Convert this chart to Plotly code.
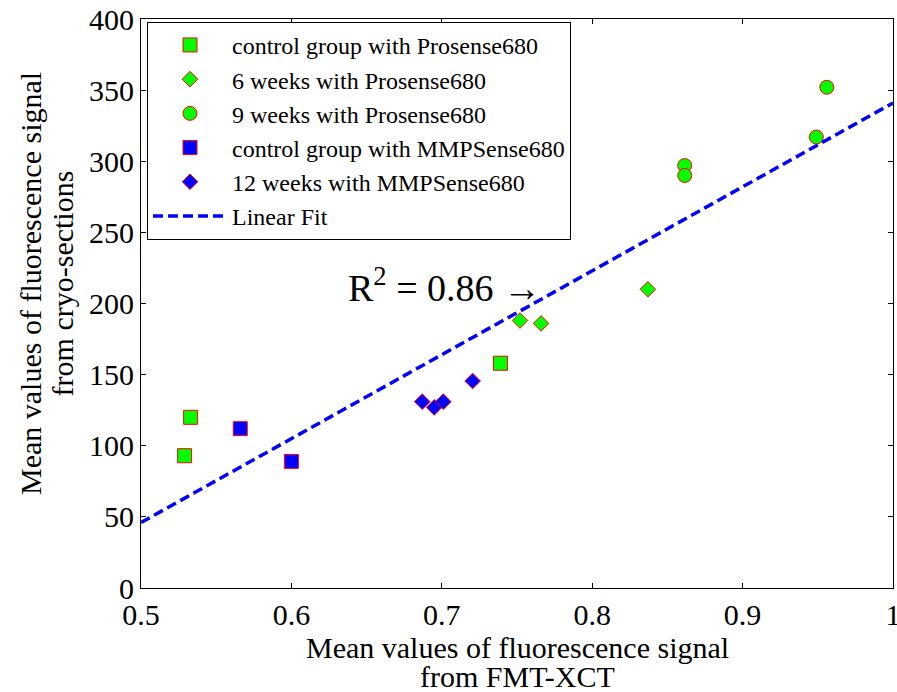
import plotly.graph_objects as go

# Data
ctrl_pro_x = [0.529, 0.533, 0.739]
ctrl_pro_y = [93, 120, 158]
w6_pro_x = [0.752, 0.766, 0.837]
w6_pro_y = [188, 186, 210]
w9_pro_x = [0.8615, 0.8615, 0.949, 0.956]
w9_pro_y = [297, 290, 317, 352]
ctrl_mmp_x = [0.566, 0.600]
ctrl_mmp_y = [112, 89]
w12_mmp_x = [0.687, 0.695, 0.701, 0.7205]
w12_mmp_y = [131, 127, 131, 145.5]
fit_x = [0.5, 1.0]
fit_y = [46, 341]

x_ticks = [0.5, 0.6, 0.7, 0.8, 0.9, 1.0]
x_ticktext = ["0.5", "0.6", "0.7", "0.8", "0.9", "1"]
y_ticks = [0, 50, 100, 150, 200, 250, 300, 350, 400]

FONT = "Liberation Serif"
GREEN = "#00FF00"
BLUE = "#0000FF"
RED = "#FF0000"

fig = go.Figure()

def add_markers(x, y, name, symbol, fill, size):
    fig.add_trace(go.Scatter(
        x=x, y=y, mode="markers", name=name,
        marker=dict(symbol=symbol, color=fill, size=size,
                    line=dict(color=RED, width=1)),
    ))

add_markers(ctrl_pro_x, ctrl_pro_y, "control group with Prosense680", "square", GREEN, 14)
add_markers(w6_pro_x, w6_pro_y, "6 weeks with Prosense680", "diamond", GREEN, 12)
add_markers(w9_pro_x, w9_pro_y, "9 weeks with Prosense680", "circle", GREEN, 14)
add_markers(ctrl_mmp_x, ctrl_mmp_y, "control group with MMPSense680", "square", BLUE, 14)
add_markers(w12_mmp_x, w12_mmp_y, "12 weeks with MMPSense680", "diamond", BLUE, 12)

fig.add_trace(go.Scatter(
    x=fit_x, y=fit_y, mode="lines", name="Linear Fit",
    line=dict(color=BLUE, width=3.5, dash="10px,5px"),
))

fig.add_annotation(
    x=0.6365, y=213, xref="x", yref="y", xanchor="left", yanchor="middle",
    text="R<sup>2</sup> = 0.86 →", showarrow=False,
    font=dict(family=FONT, size=38, color="black"),
)

# Axis titles as separate lines (tight line spacing like the reference)
title_font = dict(family=FONT, size=30, color="black")
fig.add_annotation(x=0.5, y=-0.1054, xref="x domain", yref="paper",
                   text="Mean values of fluorescence signal", showarrow=False,
                   xanchor="center", yanchor="middle", font=title_font)
fig.add_annotation(x=0.5, y=-0.156, xref="x domain", yref="paper",
                   text="from FMT-XCT", showarrow=False,
                   xanchor="center", yanchor="middle", font=title_font)
fig.add_annotation(x=-0.147, y=0.535, xref="paper", yref="y domain",
                   text="Mean values of fluorescence signal", showarrow=False,
                   textangle=-90, xanchor="center", yanchor="middle", font=title_font)
fig.add_annotation(x=-0.104, y=0.535, xref="paper", yref="y domain",
                   text="from cryo-sections", showarrow=False,
                   textangle=-90, xanchor="center", yanchor="middle", font=title_font)

axis_common = dict(
    showline=True, linecolor="black", linewidth=1, mirror="ticks",
    ticks="inside", ticklen=5, tickcolor="black", tickwidth=1,
    showgrid=False, zeroline=False, automargin=False,
    ticklabeloverflow="allow",
    tickfont=dict(family=FONT, size=30, color="black"),
)

fig.update_layout(
    width=897, height=692,
    margin=dict(l=141, r=4, t=19, b=104),
    paper_bgcolor="white", plot_bgcolor="white",
    font=dict(family=FONT, color="black"),
    xaxis=dict(range=[0.5, 1.0], tickvals=x_ticks, ticktext=x_ticktext, **axis_common),
    yaxis=dict(range=[0, 400], tickvals=y_ticks, **axis_common),
    legend=dict(x=0.008, y=0.995, xanchor="left", yanchor="top",
                bordercolor="black", borderwidth=1, bgcolor="white",
                font=dict(family=FONT, size=24, color="black"),
                tracegroupgap=0, itemwidth=74),
    showlegend=True,
)

# remove the default page margin so the figure fills the window exactly
fig.write_html("out.html",
               config={"displayModeBar": False},
               post_script="document.body.style.margin='0';document.body.style.overflow='hidden';")
